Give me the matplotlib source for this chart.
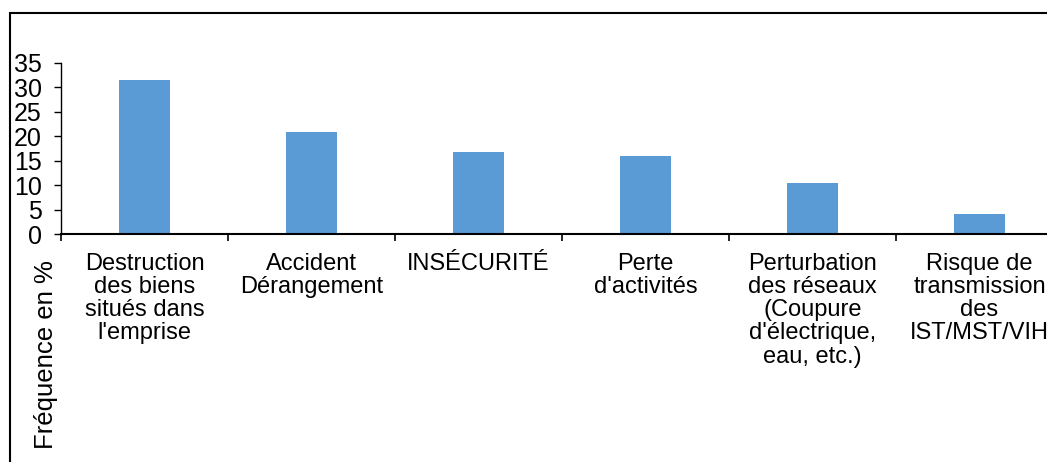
import matplotlib.pyplot as plt
from matplotlib.patches import Rectangle
from matplotlib.ticker import FixedLocator

categories = [
    "Destruction\ndes biens\nsitués dans\nl'emprise",
    "Accident\nDérangement",
    "INSÉCURITÉ",
    "Perte\nd'activités",
    "Perturbation\ndes réseaux\n(Coupure\nd'électrique,\neau, etc.)",
    "Risque de\ntransmission\ndes\nIST/MST/VIH",
]
frequences = [31.5, 20.9, 16.8, 16.0, 10.4, 4.1]
yticks = [0, 5, 10, 15, 20, 25, 30, 35]

plt.rcParams['font.family'] = ['Liberation Sans', 'DejaVu Sans']

W, H = 1047, 462
fig = plt.figure(figsize=(W / 100, H / 100), dpi=100)

# cadre du graphique (coupé à droite et en bas)
fig.patches.append(Rectangle((10 / W, -0.1), 1.2, (H - 13) / H + 0.1,
                             transform=fig.transFigure, fill=False,
                             edgecolor='black', linewidth=1.5))

ax = fig.add_axes([61 / W, (H - 234) / H, (1063 - 61) / W, (234 - 63) / H])
x = list(range(len(categories)))
ax.bar(x, frequences, width=0.31, color='#5B9BD5')

ax.set_xlim(-0.5, len(categories) - 0.5)
ax.set_ylim(0, 35)
ax.set_yticks(yticks)
ax.set_xticks(x)
ax.set_xticklabels(categories, fontsize=17, linespacing=1.07)
ax.xaxis.set_minor_locator(FixedLocator([i - 0.5 for i in range(len(categories) + 1)]))
ax.tick_params(axis='x', which='major', length=0, pad=13.5)
ax.tick_params(axis='x', which='minor', length=5, width=1.2, direction='out')
ax.tick_params(axis='y', length=5, width=1, direction='out', labelsize=18, pad=9)

for s in ['top', 'right']:
    ax.spines[s].set_visible(False)
ax.spines['bottom'].set_linewidth(1.5)
ax.spines['left'].set_linewidth(1)

fig.text(46 / W, 1 - 355 / H, "Fréquence en %", rotation=90,
         ha='center', va='center', fontsize=18.5)

fig.savefig("out.png", dpi=100)
